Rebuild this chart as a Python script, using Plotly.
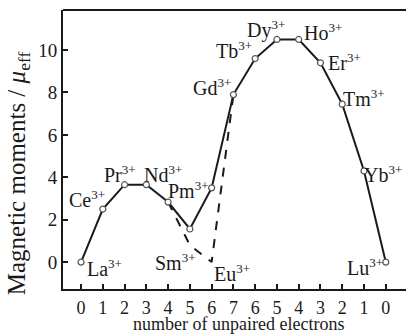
import plotly.graph_objects as go

# Trivalent lanthanide ions in order across the 4f series
ions = ["La", "Ce", "Pr", "Nd", "Pm", "Sm", "Eu", "Gd",
        "Tb", "Dy", "Ho", "Er", "Tm", "Yb", "Lu"]
# Number of unpaired 4f electrons for each ion
unpaired = ["0", "1", "2", "3", "4", "5", "6", "7",
            "6", "5", "4", "3", "2", "1", "0"]
# Measured effective magnetic moments (solid curve)
mu_measured = [0.0, 2.5, 3.65, 3.65, 2.83, 1.56, 3.5, 7.9,
               9.6, 10.5, 10.5, 9.4, 7.45, 4.3, 0.0]
# Calculated moments for the Pm-Sm-Eu-Gd stretch (dashed curve)
dashed_ions = ["Pm", "Sm", "Eu", "Gd"]
mu_calculated = [2.83, 0.8, 0.0, 7.9]

pos = list(range(len(ions)))
dashed_pos = [ions.index(n) for n in dashed_ions]

SERIF = "Liberation Serif, Times New Roman, serif"
INK = "#1a1a1a"

fig = go.Figure()

fig.add_trace(go.Scatter(
    x=dashed_pos, y=mu_calculated, mode="lines",
    line=dict(color=INK, width=2, dash="dash"),
    hoverinfo="skip", showlegend=False,
))
fig.add_trace(go.Scatter(
    x=pos, y=mu_measured, mode="lines+markers",
    line=dict(color=INK, width=2),
    marker=dict(symbol="circle", size=6, color="white",
                line=dict(color="#555555", width=1.2)),
    showlegend=False,
))

# Label placement: (anchor, x offset px, y offset px) for each ion
label_style = {
    "La": ("left", 5, -6),
    "Ce": ("right", 3, 10),
    "Pr": ("center", -5, 11),
    "Nd": ("left", -3, 11),
    "Pm": ("left", -1, 12),
    "Sm": ("right", 7, -17),
    "Eu": ("left", 1, -11),
    "Gd": ("right", -1, 8),
    "Tb": ("right", -2, 9),
    "Dy": ("center", -11, 10),
    "Ho": ("left", 4, 7),
    "Er": ("left", 7, 1),
    "Tm": ("left", 0, 6),
    "Yb": ("left", -1, -3),
    "Lu": ("right", -2, -5),
}

for i, name in enumerate(ions):
    if name in ("Sm", "Eu"):
        yv = mu_calculated[dashed_ions.index(name)]
    else:
        yv = mu_measured[i]
    anchor, dx, dy = label_style[name]
    fig.add_annotation(
        x=pos[i], y=yv, xref="x", yref="y",
        text=f"{name}<sup><span style='font-size:13px'>3+</span></sup>",
        showarrow=False,
        xanchor=anchor, yanchor="middle", xshift=dx, yshift=dy,
        font=dict(family=SERIF, size=20, color=INK),
        borderpad=0,
    )

# Axis titles
fig.add_annotation(
    x=0.5, y=0, xref="paper", yref="paper",
    text="number of unpaired electrons", showarrow=False,
    xanchor="center", yanchor="top", xshift=4, yshift=-24,
    font=dict(family=SERIF, size=18, color=INK), borderpad=0,
)
fig.add_annotation(
    x=0, y=0.415, xref="paper", yref="paper",
    text="Magnetic moments / <i>μ</i><sub>eff</sub>", showarrow=False,
    textangle=-90, xanchor="center", yanchor="middle", xshift=-45,
    font=dict(family=SERIF, size=25, color=INK), borderpad=0,
)

fig.update_layout(
    width=407, height=336,
    margin=dict(l=63, r=1, t=10, b=47),
    paper_bgcolor="white", plot_bgcolor="white",
    font=dict(family=SERIF, size=18, color=INK),
    xaxis=dict(
        range=[-0.83, 14.93],
        tickmode="array", tickvals=pos, ticktext=unpaired,
        ticks="inside", ticklen=5, tickwidth=1.5, tickcolor=INK,
        ticklabelstandoff=1,
        showline=True, linewidth=2, linecolor=INK, mirror=False,
        showgrid=False, zeroline=False,
        tickfont=dict(family=SERIF, size=18, color=INK),
    ),
    yaxis=dict(
        range=[-1.27, 11.89],
        tickmode="array", tickvals=[0, 2, 4, 6, 8, 10],
        ticks="inside", ticklen=5, tickwidth=1.5, tickcolor=INK,
        showline=True, linewidth=2, linecolor=INK, mirror=False,
        showgrid=False, zeroline=False,
        tickfont=dict(family=SERIF, size=19, color=INK),
    ),
)

# Top border of the frame
fig.add_shape(type="line", xref="paper", yref="paper",
              x0=0, x1=1, y0=1, y1=1,
              line=dict(color=INK, width=2))

fig.write_html("out.html")
